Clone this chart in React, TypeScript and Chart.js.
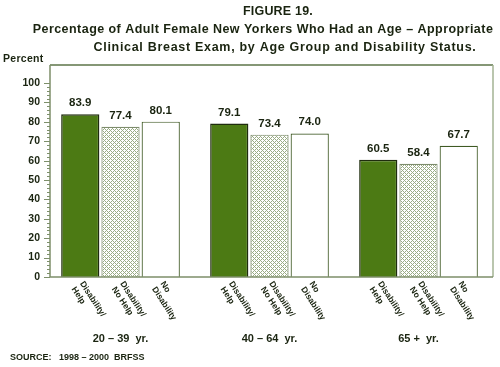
import React, { useEffect, useRef } from 'react';
import { Chart, registerables } from 'chart.js';
Chart.register(...registerables);

const groups = ['20 – 39  yr.', '40 – 64  yr.', '65 +  yr.'];
const helpVals = [83.9, 79.1, 60.5];
const noHelpVals = [77.4, 73.4, 58.4];
const noDisVals = [80.1, 74.0, 67.7];
const barLabels = [['Disability/', 'Help'], ['Disability/', 'No Help'], ['No', 'Disability']];
const yTicks = [0, 10, 20, 30, 40, 50, 60, 70, 80, 90, 100];
const titleLines = [
  'FIGURE 19.',
  'Percentage of Adult Female New Yorkers Who Had an Age – Appropriate',
  'Clinical Breast Exam, by Age Group and Disability Status.',
];
const yAxisTitle = 'Percent';
const sourceText = 'SOURCE:   1998 – 2000  BRFSS';

const TXT = '#1a2410';
const FONT = '"Liberation Sans", Arial, sans-serif';

function makePattern(): CanvasPattern | string {
  const c = document.createElement('canvas');
  c.width = 4; c.height = 4;
  const g = c.getContext('2d');
  if (!g) return '#cfd8c4';
  g.fillStyle = '#ffffff';
  g.fillRect(0, 0, 4, 4);
  g.fillStyle = '#9aac86';
  for (let x = 0; x < 4; x++) for (let y = 0; y < 4; y++) {
    if ((x + y) % 4 === 0 || ((x - y) + 8) % 4 === 0) g.fillRect(x, y, 1, 1);
  }
  const p = g.createPattern(c, 'repeat');
  return p || '#cfd8c4';
}

export default function App() {
  const ref = useRef<HTMLCanvasElement>(null);
  useEffect(() => {
    document.body.style.margin = '0';
    const canvas = ref.current;
    if (!canvas) return;
    const pattern = makePattern();

    const deco = {
      id: 'deco',
      afterDraw(chart: any) {
        const ctx = chart.ctx as CanvasRenderingContext2D;
        const ca = chart.chartArea;
        const ys = chart.scales.y;
        const L = 50, R = 493, T = ca.top, B = ca.bottom;
        ctx.save();
        // frame
        ctx.lineWidth = 1.5;
        ctx.strokeStyle = '#5d7448';
        ctx.beginPath(); ctx.moveTo(L, T); ctx.lineTo(R, T); ctx.stroke();
        ctx.strokeStyle = '#a3b393';
        ctx.beginPath(); ctx.moveTo(R, T); ctx.lineTo(R, B); ctx.stroke();
        ctx.strokeStyle = '#7d8f6a';
        ctx.beginPath(); ctx.moveTo(L, T); ctx.lineTo(L, B); ctx.lineTo(R, B); ctx.stroke();
        // ticks
        ctx.lineWidth = 1;
        ctx.strokeStyle = '#7d8f6a';
        for (let v = 0; v <= 100; v += 2) {
          const y = Math.round(ys.getPixelForValue(v)) + 0.5;
          const len = v % 10 === 0 ? 6 : 3;
          ctx.beginPath(); ctx.moveTo(L - len, y); ctx.lineTo(L, y); ctx.stroke();
        }
        ctx.fillStyle = TXT;
        ctx.font = 'bold 10.5px ' + FONT;
        ctx.textAlign = 'right';
        ctx.textBaseline = 'middle';
        yTicks.forEach(v => ctx.fillText(String(v), 40, ys.getPixelForValue(v)));
        // y title
        ctx.textAlign = 'left';
        ctx.font = 'bold 10.5px ' + FONT;
        (ctx as any).letterSpacing = '0.3px';
        ctx.fillText(yAxisTitle, 3, 59);
        // titles
        ctx.textAlign = 'center';
        ctx.font = 'bold 12.5px ' + FONT;
        (ctx as any).letterSpacing = '0.2px';
        ctx.fillText(titleLines[0], 278, 12);
        (ctx as any).letterSpacing = '0.45px';
        ctx.fillText(titleLines[1], 263, 30);
        (ctx as any).letterSpacing = '0.7px';
        ctx.fillText(titleLines[2], 285, 48);
        (ctx as any).letterSpacing = '0px';
        // value labels
        ctx.font = 'bold 11.5px ' + FONT;
        ctx.textBaseline = 'alphabetic';
        chart.data.datasets.forEach((ds: any, di: number) => {
          const meta = chart.getDatasetMeta(di);
          meta.data.forEach((bar: any, i: number) => {
            const v = ds.data[i];
            ctx.fillText(v.toFixed(1), bar.x, bar.y - 8);
          });
        });
        // rotated bar labels
        ctx.font = 'bold 8.5px ' + FONT;
        ctx.textAlign = 'left';
        ctx.textBaseline = 'top';
        const ang = 57 * Math.PI / 180;
        chart.data.datasets.forEach((ds: any, di: number) => {
          const meta = chart.getDatasetMeta(di);
          meta.data.forEach((bar: any) => {
            ctx.save();
            ctx.translate(bar.x + 5, B + 3);
            ctx.rotate(ang);
            barLabels[di].forEach((line, li) => ctx.fillText(line, 0, li * 10));
            ctx.restore();
          });
        });
        // group labels
        ctx.font = 'bold 11px ' + FONT;
        ctx.textAlign = 'center';
        ctx.textBaseline = 'middle';
        groups.forEach((g, i) => {
          const cx = chart.getDatasetMeta(1).data[i].x;
          ctx.fillText(g, cx, 339);
        });
        // source
        ctx.font = 'bold 9px ' + FONT;
        ctx.textAlign = 'left';
        ctx.fillText(sourceText, 10, 358);
        ctx.restore();
      },
    };

    const chart = new Chart(canvas, {
      type: 'bar',
      data: {
        labels: groups,
        datasets: [
          { label: 'Disability/Help', data: helpVals, backgroundColor: '#4c7a14', borderColor: '#1f2c0e', borderWidth: 1.5 },
          { label: 'Disability/No Help', data: noHelpVals, backgroundColor: pattern as any, borderColor: '#7d8c6c', borderWidth: 1.2 },
          { label: 'No Disability', data: noDisVals, backgroundColor: '#ffffff', borderColor: '#3f5a24', borderWidth: 1.2 },
        ],
      },
      options: {
        animation: false,
        responsive: true,
        maintainAspectRatio: false,
        layout: { padding: { left: 46, right: 7, top: 65, bottom: 90 } },
        plugins: { legend: { display: false }, tooltip: { enabled: false }, title: { display: false } },
        datasets: { bar: { categoryPercentage: 0.81, barPercentage: 0.95 } },
        scales: {
          x: { display: false, offset: true },
          y: { display: false, min: 0, max: 109.3 },
        },
      },
      plugins: [deco],
    });
    return () => chart.destroy();
  }, []);
  return (
    <div style={{ width: 500, height: 367, position: 'relative' }}>
      <canvas ref={ref} />
    </div>
  );
}
